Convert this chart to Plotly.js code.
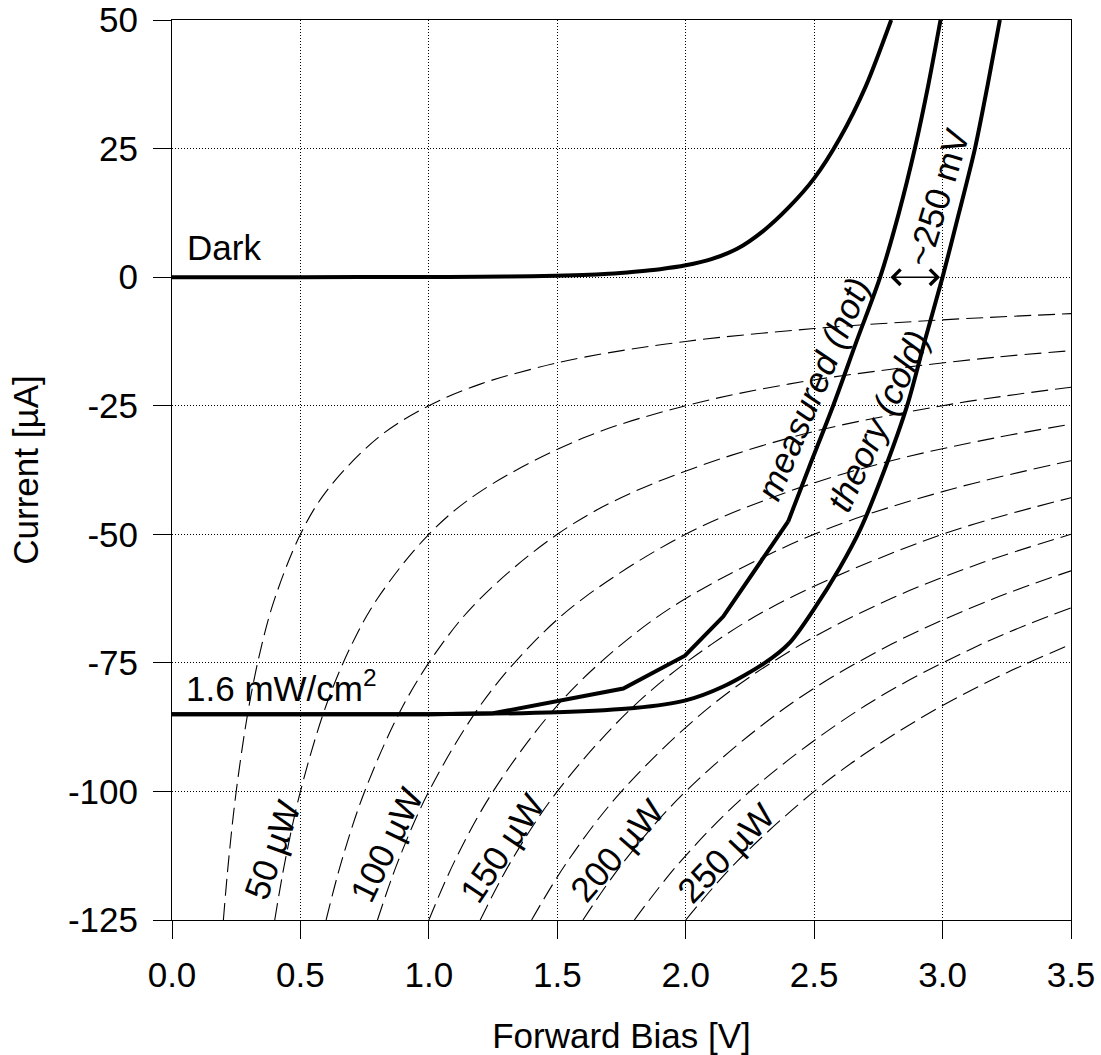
<!DOCTYPE html>
<html>
<head>
<meta charset="utf-8">
<script src="https://cdn.plot.ly/plotly-3.0.1.min.js"></script>
<style>html,body{margin:0;padding:0;background:#fff;}</style>
</head>
<body>
<div id="chart" style="width:1101px;height:1055px;"></div>
<script>
// ---- Solid curves ----
const darkV = [0, 0.5, 1.0, 1.2, 1.4, 1.6, 1.7, 1.8, 1.9, 2.0, 2.1, 2.2, 2.3, 2.4, 2.5, 2.6, 2.7, 2.8];
const darkI = [0, 0, 0.02, 0.06, 0.18, 0.4, 0.65, 1.05, 1.55, 2.3, 3.5, 5.5, 8.9, 13.5, 19.2, 27.0, 37.0, 50];

const hotLowV = [0, 1.0, 1.25, 1.5, 1.757, 1.997, 2.146, 2.399];
const hotLowI = [-85, -85, -84.8, -82.5, -80.0, -73.6, -66.0, -47.5];
const hotHighV = [2.399, 2.48, 2.574, 2.665, 2.757, 2.83, 2.892, 2.945, 2.992];
const hotHighI = [-47.5, -37.0, -25.0, -12.5, 0, 12.5, 25.0, 37.5, 50];

const coldV = [0, 1.0, 1.5, 1.8, 2.0, 2.146, 2.308, 2.406, 2.5, 2.6, 2.68, 2.77, 2.862, 2.93, 3.0, 3.064, 3.126, 3.176, 3.223];
const coldI = [-85, -85, -84.6, -83.8, -82.3, -79.6, -75.0, -71.0, -64.5, -56.5, -49.0, -38.0, -25.0, -12.5, 0, 12.5, 25.0, 37.5, 50];

// ---- Dashed constant-power curves ----
const dash25V  = [0.2, 0.22, 0.25, 0.3, 0.35, 0.4, 0.5, 0.6, 0.8, 1.0, 1.2, 1.4, 1.6, 2.0, 2.5, 3.0, 3.5];
const dash25I  = [-125, -113.6, -100, -83.3, -71.4, -62.5, -50, -41.7, -31.3, -25, -20.8, -17.9, -15.6, -12.5, -10, -8.3, -7.1];
const dash50V  = [0.4, 0.44, 0.5, 0.6, 0.7, 0.8, 1.0, 1.2, 1.6, 2.0, 2.4, 2.8, 3.2, 3.5];
const dash50I  = [-125, -113.6, -100, -83.3, -71.4, -62.5, -50, -41.7, -31.3, -25, -20.8, -17.9, -15.6, -14.3];
const dash75V  = [0.6, 0.66, 0.75, 0.9, 1.05, 1.2, 1.5, 1.8, 2.4, 3.0, 3.5];
const dash75I  = [-125, -113.6, -100, -83.3, -71.4, -62.5, -50, -41.7, -31.3, -25, -21.4];
const dash100V = [0.8, 0.88, 1.0, 1.2, 1.4, 1.6, 2.0, 2.4, 2.8, 3.2, 3.5];
const dash100I = [-125, -113.6, -100, -83.3, -71.4, -62.5, -50, -41.7, -35.7, -31.3, -28.6];
const dash125V = [1.0, 1.1, 1.25, 1.5, 1.75, 2.0, 2.5, 3.0, 3.5];
const dash125I = [-125, -113.6, -100, -83.3, -71.4, -62.5, -50, -41.7, -35.7];
const dash150V = [1.2, 1.32, 1.5, 1.8, 2.1, 2.4, 3.0, 3.5];
const dash150I = [-125, -113.6, -100, -83.3, -71.4, -62.5, -50, -42.9];
const dash175V = [1.4, 1.54, 1.75, 2.1, 2.45, 2.8, 3.15, 3.5];
const dash175I = [-125, -113.6, -100, -83.3, -71.4, -62.5, -55.6, -50];
const dash200V = [1.6, 1.76, 2.0, 2.4, 2.8, 3.2, 3.5];
const dash200I = [-125, -113.6, -100, -83.3, -71.4, -62.5, -57.1];
const dash225V = [1.8, 1.98, 2.25, 2.7, 3.15, 3.5];
const dash225I = [-125, -113.6, -100, -83.3, -71.4, -64.3];
const dash250V = [2.0, 2.2, 2.5, 2.75, 3.0, 3.25, 3.5];
const dash250I = [-125, -113.6, -100, -90.9, -83.3, -76.9, -71.4];

// ---- Labels ----
const powerLabels = ['50 µW', '100 µW', '150 µW', '200 µW', '250 µW'];
const powerLabelV = [0.388, 0.836, 1.283, 1.731, 2.153];
const powerLabelI = [-111.4, -110.4, -111.0, -111.4, -112.0];
const powerLabelAngle = [-70, -64, -56, -49, -46];

const xTicks = [0, 0.5, 1.0, 1.5, 2.0, 2.5, 3.0, 3.5];
const yTicks = [50, 25, 0, -25, -50, -75, -100, -125];

const FONT = 'Liberation Sans, Arial, Helvetica, sans-serif';
const FS = 35;

const dashSets = [
  [dash25V, dash25I], [dash50V, dash50I], [dash75V, dash75I], [dash100V, dash100I], [dash125V, dash125I],
  [dash150V, dash150I], [dash175V, dash175I], [dash200V, dash200I], [dash225V, dash225I], [dash250V, dash250I]
];

const traces = [];
dashSets.forEach(function (d) {
  traces.push({
    x: d[0], y: d[1], type: 'scatter', mode: 'lines',
    line: {color: '#000', width: 1.1, dash: '17px,7px', shape: 'spline', smoothing: 1},
    hoverinfo: 'skip'
  });
});
traces.push({x: darkV, y: darkI, type: 'scatter', mode: 'lines',
  line: {color: '#000', width: 4, shape: 'spline', smoothing: 0.8}});
traces.push({x: coldV, y: coldI, type: 'scatter', mode: 'lines',
  line: {color: '#000', width: 4, shape: 'spline', smoothing: 0.8}});
traces.push({x: hotLowV, y: hotLowI, type: 'scatter', mode: 'lines',
  line: {color: '#000', width: 4, shape: 'linear'}});
traces.push({x: hotHighV, y: hotHighI, type: 'scatter', mode: 'lines',
  line: {color: '#000', width: 4, shape: 'spline', smoothing: 0.8}});

const annotations = [];
powerLabels.forEach(function (t, i) {
  annotations.push({x: powerLabelV[i], y: powerLabelI[i], xref: 'x', yref: 'y', text: t,
    showarrow: false, textangle: powerLabelAngle[i], xanchor: 'center', yanchor: 'middle',
    font: {family: FONT, size: FS, color: '#000'}});
});
annotations.push({x: 0.05, y: 5.8, xref: 'x', yref: 'y', text: 'Dark', showarrow: false,
  xanchor: 'left', yanchor: 'middle', font: {family: FONT, size: FS, color: '#000'}});
annotations.push({x: 0.045, y: -79.5, xref: 'x', yref: 'y', text: '1.6 mW/cm<sup>2</sup>', showarrow: false,
  xanchor: 'left', yanchor: 'middle', font: {family: FONT, size: FS, color: '#000'}});
annotations.push({x: 2.495, y: -21.6, xref: 'x', yref: 'y', text: '<i>measured (hot)</i>', showarrow: false,
  textangle: -67, xanchor: 'center', yanchor: 'middle', font: {family: FONT, size: FS, color: '#000'}});
annotations.push({x: 2.748, y: -27.8, xref: 'x', yref: 'y', text: '<i>theory (cold)</i>', showarrow: false,
  textangle: -65, xanchor: 'center', yanchor: 'middle', font: {family: FONT, size: FS, color: '#000'}});
annotations.push({x: 2.983, y: 15.6, xref: 'x', yref: 'y', text: '~250 mV', showarrow: false,
  textangle: -73, xanchor: 'center', yanchor: 'middle', font: {family: FONT, size: FS, color: '#000'}});
annotations.push({x: 2.99, y: 0, ax: 2.791, ay: 0, xref: 'x', yref: 'y', axref: 'x', ayref: 'y',
  text: '', showarrow: true, arrowhead: 4, startarrowhead: 4, arrowside: 'end+start',
  arrowsize: 2, arrowwidth: 1.5, arrowcolor: '#000', standoff: 0, startstandoff: 0});

const axisCommon = {
  ticks: 'outside', ticklen: 18, tickwidth: 1, tickcolor: '#000',
  showline: true, linecolor: '#000', linewidth: 1, mirror: true,
  showgrid: true, gridcolor: '#000', gridwidth: 1, griddash: '1px,2px',
  zeroline: false, tickfont: {family: FONT, size: FS, color: '#000'}
};

const layout = {
  width: 1101, height: 1055,
  margin: {l: 172, r: 30, t: 20, b: 135},
  paper_bgcolor: '#fff', plot_bgcolor: '#fff',
  showlegend: false,
  font: {family: FONT, size: FS, color: '#000'},
  xaxis: Object.assign({}, axisCommon, {
    range: [0, 3.5], tickvals: xTicks, ticktext: xTicks.map(function (v) { return v.toFixed(1); }),
    ticklabelstandoff: 6,
    title: {text: 'Forward Bias [V]', font: {family: FONT, size: FS, color: '#000'}, standoff: 34}
  }),
  yaxis: Object.assign({}, axisCommon, {
    range: [-125, 50], tickvals: yTicks, ticktext: yTicks.map(String),
    ticklabelstandoff: 8,
    title: {text: 'Current [µA]', font: {family: FONT, size: FS, color: '#000'}, standoff: 18}
  }),
  annotations: annotations
};

Plotly.newPlot('chart', traces, layout, {displayModeBar: false, staticPlot: true});
</script>
</body>
</html>
